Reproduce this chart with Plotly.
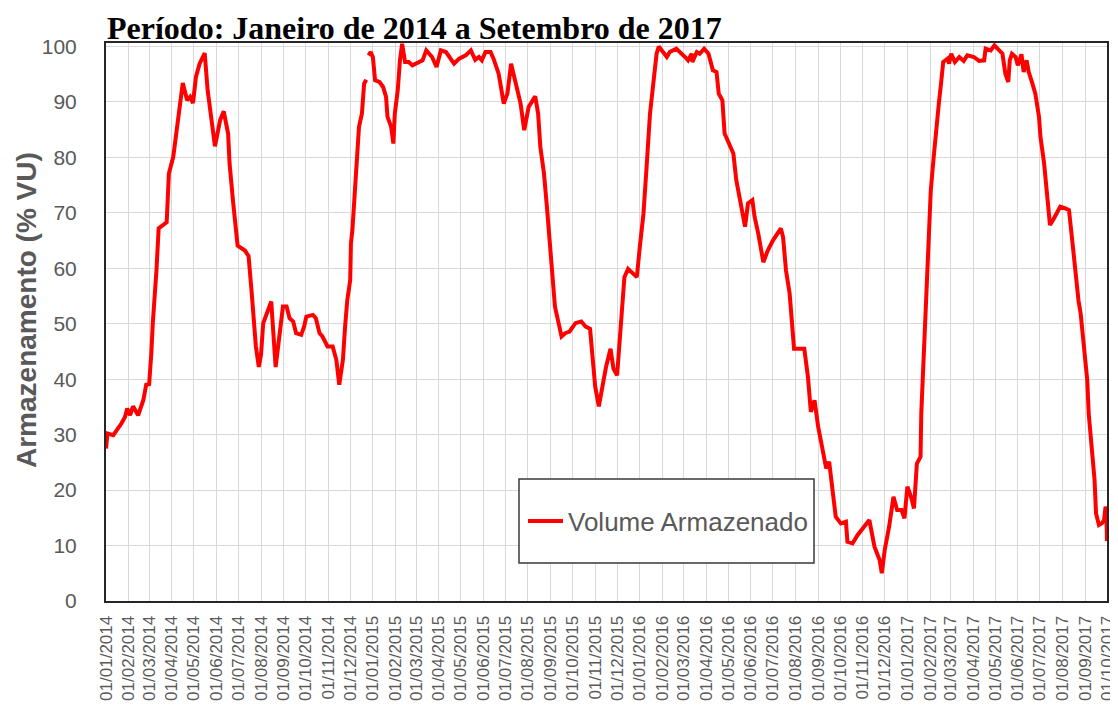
import plotly.graph_objects as go

# ---- data ----
dates = [
    "2014-01-01", "2014-01-03", "2014-01-11", "2014-01-16", "2014-01-22", "2014-01-27", "2014-01-30",
    "2014-02-03", "2014-02-07", "2014-02-14", "2014-02-21", "2014-02-25", "2014-03-01", "2014-03-04",
    "2014-03-06", "2014-03-11", "2014-03-14", "2014-03-25", "2014-03-28", "2014-04-03", "2014-04-08",
    "2014-04-12", "2014-04-16", "2014-04-22", "2014-04-26", "2014-04-30", "2014-05-04", "2014-05-09",
    "2014-05-16", "2014-05-20", "2014-05-24", "2014-05-30", "2014-06-06", "2014-06-11", "2014-06-17",
    "2014-06-19", "2014-06-24", "2014-06-30", "2014-07-10", "2014-07-15", "2014-07-19", "2014-07-22",
    "2014-07-25", "2014-07-29", "2014-08-01", "2014-08-04", "2014-08-15", "2014-08-21", "2014-08-26",
    "2014-08-31", "2014-09-05", "2014-09-09", "2014-09-14", "2014-09-18", "2014-09-25", "2014-09-29",
    "2014-10-02", "2014-10-11", "2014-10-15", "2014-10-20", "2014-10-24", "2014-10-31", "2014-11-07",
    "2014-11-12", "2014-11-16", "2014-11-21", "2014-11-24", "2014-11-27", "2014-12-01", "2014-12-02",
    "2014-12-04", "2014-12-09", "2014-12-13", "2014-12-17", "2014-12-20", "2014-12-23", "2014-12-24",
    "2014-12-26", "2014-12-29", "2015-01-01", "2015-01-04", "2015-01-10", "2015-01-15", "2015-01-19",
    "2015-01-21", "2015-01-26", "2015-01-29", "2015-01-31", "2015-02-04", "2015-02-07", "2015-02-10",
    "2015-02-14", "2015-02-19", "2015-02-24", "2015-03-05", "2015-03-10", "2015-03-15", "2015-03-23",
    "2015-03-29", "2015-04-04", "2015-04-11", "2015-04-22", "2015-04-29", "2015-05-08", "2015-05-15",
    "2015-05-21", "2015-05-26", "2015-05-30", "2015-06-04", "2015-06-11", "2015-06-15", "2015-06-22",
    "2015-06-29", "2015-07-04", "2015-07-09", "2015-07-15", "2015-07-22", "2015-07-27", "2015-08-02",
    "2015-08-11", "2015-08-15", "2015-08-18", "2015-08-23", "2015-08-27", "2015-08-30", "2015-09-03",
    "2015-09-07", "2015-09-16", "2015-09-21", "2015-09-27", "2015-10-05", "2015-10-13", "2015-10-19",
    "2015-10-25", "2015-10-30", "2015-11-01", "2015-11-06", "2015-11-11", "2015-11-16", "2015-11-22",
    "2015-11-26", "2015-12-01", "2015-12-04", "2015-12-08", "2015-12-11", "2015-12-16", "2015-12-28",
    "2016-01-01", "2016-01-06", "2016-01-10", "2016-01-15", "2016-01-20", "2016-01-24", "2016-01-27",
    "2016-02-07", "2016-02-11", "2016-02-20", "2016-03-03", "2016-03-07", "2016-03-12", "2016-03-13",
    "2016-03-19", "2016-03-23", "2016-03-29", "2016-04-04", "2016-04-10", "2016-04-15", "2016-04-18",
    "2016-04-23", "2016-04-26", "2016-05-03", "2016-05-08", "2016-05-12", "2016-05-19", "2016-05-24",
    "2016-05-28", "2016-06-03", "2016-06-06", "2016-06-11", "2016-06-18", "2016-06-24", "2016-07-01",
    "2016-07-12", "2016-07-15", "2016-07-19", "2016-07-24", "2016-07-26", "2016-07-30", "2016-08-13",
    "2016-08-18", "2016-08-22", "2016-08-27", "2016-09-01", "2016-09-07", "2016-09-12", "2016-09-16",
    "2016-09-21", "2016-09-25", "2016-10-02", "2016-10-09", "2016-10-11", "2016-10-18", "2016-10-25",
    "2016-11-04", "2016-11-10", "2016-11-17", "2016-11-24", "2016-11-27", "2016-12-01", "2016-12-07",
    "2016-12-13", "2016-12-18", "2016-12-24", "2016-12-28", "2017-01-01", "2017-01-06", "2017-01-10",
    "2017-01-14", "2017-01-19", "2017-01-20", "2017-01-23", "2017-01-26", "2017-01-29", "2017-01-31",
    "2017-02-02", "2017-02-06", "2017-02-09", "2017-02-13", "2017-02-16", "2017-02-19", "2017-02-25",
    "2017-02-27", "2017-03-02", "2017-03-07", "2017-03-13", "2017-03-19", "2017-03-24", "2017-04-02",
    "2017-04-09", "2017-04-16", "2017-04-18", "2017-04-25", "2017-04-30", "2017-05-06", "2017-05-11",
    "2017-05-15", "2017-05-19", "2017-05-21", "2017-05-24", "2017-05-29", "2017-06-01", "2017-06-06",
    "2017-06-09", "2017-06-13", "2017-06-16", "2017-06-21", "2017-06-25", "2017-06-30", "2017-07-02",
    "2017-07-07", "2017-07-10", "2017-07-15", "2017-07-20", "2017-07-29", "2017-08-05", "2017-08-10",
    "2017-08-14", "2017-08-19", "2017-08-23", "2017-08-26", "2017-08-30", "2017-09-04", "2017-09-06",
    "2017-09-10", "2017-09-14", "2017-09-16", "2017-09-20", "2017-09-24", "2017-09-27", "2017-09-29",
    "2017-09-30", "2017-10-01",
]

volume = [
    27.5, 30.2, 29.9, 30.8, 32.0, 33.2, 34.7,
    33.5, 35.1, 33.5, 36.2, 39.0, 39.1, 44.7,
    50.1, 59.6, 67.2, 68.3, 77.1, 80.1, 84.9,
    88.5, 93.4, 90.3, 90.9, 89.8, 94.5, 96.9,
    98.8, 92.1, 88.5, 82.0, 86.7, 88.3, 84.3,
    78.9, 71.7, 64.1, 63.2, 62.2, 56.0, 50.6,
    45.9, 42.2, 44.4, 50.1, 54.0, 42.2, 47.1,
    53.1, 53.1, 51.0, 50.4, 48.3, 48.0, 49.5,
    51.3, 51.6, 51.0, 48.3, 47.7, 45.9, 45.9,
    43.5, 39.0, 43.5, 49.5, 54.3, 57.9, 64.5,
    66.9, 75.9, 85.5, 87.9, 93.3, 94.0, None,
    98.4, 99.0, 98.1, 93.9, 93.6, 92.7, 90.9,
    87.3, 85.5, 82.5, 87.9, 92.1, 97.5, 100.5,
    97.2, 97.2, 96.6, 97.2, 97.5, 99.3, 98.1,
    96.3, 99.3, 99.0, 96.9, 97.8, 98.4, 99.3,
    97.6, 98.1, 97.5, 99.0, 99.0, 97.8, 95.1,
    89.7, 91.5, 96.9, 93.9, 89.7, 84.9, 89.1,
    91.0, 87.9, 81.9, 77.1, 71.1, 66.5, 60.8,
    53.1, 47.7, 48.3, 48.6, 50.1, 50.4, 49.5,
    49.1, 42.9, 38.7, 35.1, 38.7, 42.3, 45.5,
    41.9, 40.7, 45.9, 51.8, 58.4, 59.9, 58.4,
    63.8, 69.8, 77.6, 87.9, 93.9, 98.7, 100.0,
    98.1, 99.0, 99.6, 98.1, 97.5, 98.7, 97.2,
    99.0, 98.7, 99.6, 98.7, 95.7, 95.4, 91.5,
    90.3, 84.3, 82.2, 80.7, 75.9, 71.1, 67.5,
    71.7, 72.3, 69.3, 66.3, 61.1, 63.2, 65.0,
    67.2, 65.6, 59.6, 55.4, 51.8, 45.5, 45.5,
    40.4, 34.1, 36.2, 31.4, 27.2, 23.9, 25.1,
    19.4, 15.2, 14.0, 14.3, 10.7, 10.4, 11.9,
    13.7, 14.6, 9.8, 7.4, 5.0, 9.2, 13.4,
    18.8, 16.4, 16.4, 14.9, 20.6, 18.8, 16.7,
    24.8, 26.0, 33.8, 42.9, 51.8, 59.6, 68.0,
    74.0, 80.1, 84.9, 89.7, 93.3, 97.2, 97.8,
    96.9, 98.7, 97.2, 98.1, 97.4, 98.4, 98.1,
    97.4, 97.5, 99.6, 99.3, 100.2, 99.3, 98.7,
    95.1, 93.6, 97.5, 98.7, 98.1, 96.6, 98.6,
    95.4, 97.5, 95.4, 93.3, 91.5, 87.3, 83.7,
    78.9, 74.7, 67.8, 68.9, 71.1, 70.8, 70.5,
    65.6, 59.0, 54.2, 51.8, 45.9, 39.8, 33.8,
    27.8, 21.8, 15.8, 13.7, 14.0, 14.6, 17.0,
    16.4, 10.8,
]

series_name = "Volume Armazenado"
title_text = "Período: Janeiro de 2014 a Setembro de 2017"
y_title = "Armazenamento (% VU)"
x_start, x_end = "2014-01-01", "2017-10-01"

# the page body adds an 8 px margin; keep the figure inside the visible box
OFF = 8
W, H = 1118 - 2 * OFF, 711 - 2 * OFF
PLOT_LEFT, PLOT_RIGHT, PLOT_TOP, PLOT_BOTTOM = 106, 1107, 43, 601  # picture pixels
L, T = PLOT_LEFT - OFF, PLOT_TOP - OFF
R = W - (PLOT_RIGHT - OFF)
B = H - (PLOT_BOTTOM - OFF)
plot_w = W - L - R
plot_h = H - T - B


def px_x(p):  # picture pixel -> paper x
    return (p - PLOT_LEFT) / plot_w


def px_y(p):  # picture pixel -> paper y
    return (PLOT_BOTTOM - p) / plot_h


fig = go.Figure()
fig.add_trace(go.Scatter(
    x=dates, y=volume, mode="lines", name=series_name,
    line=dict(color="#FF0000", width=4),
    connectgaps=False,
))

grid = "#d9d9d9"
gray = "#595959"

fig.update_layout(
    width=W, height=H,
    margin=dict(l=L, r=R, t=T, b=B, autoexpand=False),
    paper_bgcolor="white", plot_bgcolor="white",
    title=dict(
        text=title_text,
        font=dict(family="Liberation Serif", size=32, color="black", weight="bold"),
        x=(107 - OFF) / W, xanchor="left", xref="container",
        y=1 - (28 - OFF) / H, yanchor="middle", yref="container",
        pad=dict(t=0, b=0, l=0, r=0),
    ),
    showlegend=True,
    legend=dict(
        x=px_x(523), xanchor="left",
        y=px_y(521), yanchor="middle",
        bgcolor="rgba(0,0,0,0)", borderwidth=0,
        font=dict(family="Liberation Sans", size=26, color=gray),
        itemwidth=35,
    ),
    xaxis=dict(
        type="date",
        range=[x_start, x_end],
        tick0=x_start, dtick="M1",
        tickformat="%d/%m/%Y",
        tickangle=-90,
        tickfont=dict(family="Liberation Sans", size=17, color=gray),
        showgrid=True, gridcolor=grid, gridwidth=1,
        showline=True, linecolor="#262626", linewidth=2, mirror=True,
        ticks="", ticklabelstandoff=6,
        ticklabeloverflow="allow",
        automargin=False,
    ),
    yaxis=dict(
        range=[0, 100.63],
        tick0=0, dtick=10,
        tickfont=dict(family="Liberation Sans", size=21, color=gray),
        showgrid=True, gridcolor=grid, gridwidth=1,
        showline=True, linecolor="#262626", linewidth=2, mirror=True,
        zeroline=False,
        ticks="", ticklabelstandoff=23,
        automargin=False,
    ),
    annotations=[dict(
        text=y_title, textangle=-90, showarrow=False,
        xref="paper", yref="paper",
        x=px_x(26), xanchor="center",
        y=px_y(310), yanchor="middle",
        font=dict(family="Liberation Sans", size=28, color=gray, weight="bold"),
    )],
    shapes=[dict(
        type="rect", xref="paper", yref="paper",
        x0=px_x(519), x1=px_x(814),
        y0=px_y(563), y1=px_y(479),
        line=dict(color="#3a3a3a", width=1.5),
        fillcolor="white", layer="above",
    )],
)

fig.write_html("out.html")
